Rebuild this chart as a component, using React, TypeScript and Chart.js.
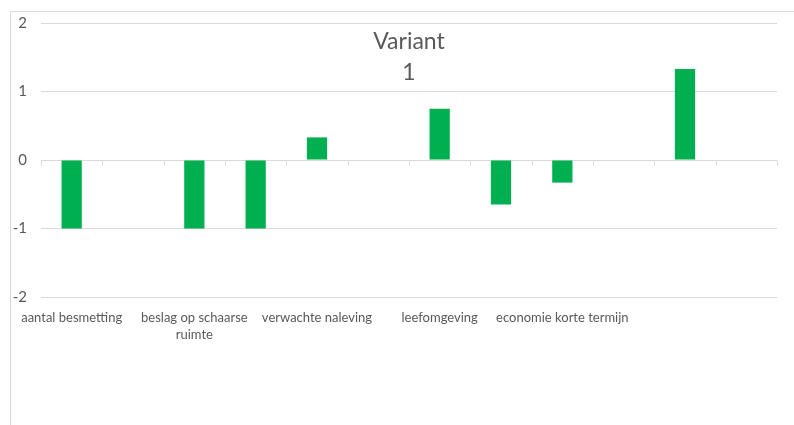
import React, { useEffect, useRef } from "react";
import { Chart, registerables } from "chart.js";

Chart.register(...registerables);

const categories: (string | string[])[] = [
  "aantal besmetting",
  "",
  ["beslag op schaarse", "ruimte"],
  "",
  "verwachte naleving",
  "",
  "leefomgeving",
  "",
  "economie korte termijn",
  "",
  "",
  "",
];
const values: number[] = [-1, 0, -1, -1, 0.33, 0, 0.75, -0.65, -0.33, 0, 1.33, 0];
const yTicks: number[] = [-2, -1, 0, 1, 2];
const titleLines: string[] = ["Variant", "1"];

const GRID = "#d9d9d9";
const TEXT = "#595959";
const FONT = "Lato, 'Open Sans', sans-serif";

const framePlugin = {
  id: "frame",
  beforeDraw(chart: any) {
    const { ctx } = chart;
    ctx.save();
    ctx.fillStyle = "#ffffff";
    ctx.fillRect(0, 0, chart.width, chart.height);
    ctx.strokeStyle = GRID;
    ctx.lineWidth = 1;
    ctx.beginPath();
    ctx.moveTo(10.5, chart.height);
    ctx.lineTo(10.5, 11.5);
    ctx.lineTo(chart.width, 11.5);
    ctx.stroke();
    ctx.restore();
  },
  afterDatasetsDraw(chart: any) {
    const { ctx, chartArea } = chart;
    const y = chart.scales.y;
    const y0 = Math.round(y.getPixelForValue(0)) + 0.5;
    const n = categories.length;
    const w = (chartArea.right - chartArea.left) / n;
    ctx.save();
    ctx.strokeStyle = GRID;
    ctx.lineWidth = 1;
    ctx.beginPath();
    for (let i = 0; i <= n; i++) {
      const x = Math.round(chartArea.left + i * w) + 0.5;
      ctx.moveTo(x, y0);
      ctx.lineTo(x, y0 + 5);
    }
    ctx.stroke();
    // title
    ctx.fillStyle = TEXT;
    ctx.font = `23px ${FONT}`;
    ctx.textAlign = "center";
    ctx.textBaseline = "alphabetic";
    const cx = (chartArea.left + chartArea.right) / 2;
    titleLines.forEach((t, i) => ctx.fillText(t, cx, 49 + i * 31));
    ctx.restore();
  },
};

export default function App() {
  const ref = useRef<HTMLCanvasElement>(null);
  useEffect(() => {
    if (!ref.current) return;
    const chart = new Chart(ref.current, {
      type: "bar",
      data: {
        labels: categories,
        datasets: [
          {
            data: values,
            backgroundColor: "#00B050",
            borderWidth: 0,
            barPercentage: 0.33,
            categoryPercentage: 1,
          },
        ],
      },
      options: {
        animation: false,
        responsive: false,
        maintainAspectRatio: false,
        devicePixelRatio: 1,
        layout: { padding: { left: 10, top: 22, right: 17, bottom: 0 } },
        plugins: {
          legend: { display: false },
          title: { display: false },
          tooltip: { enabled: false },
        },
        scales: {
          x: {
            grid: { display: false, drawTicks: false },
            border: { display: false },
            ticks: {
              autoSkip: false,
              maxRotation: 0,
              minRotation: 0,
              padding: 13,
              color: TEXT,
              font: { family: FONT, size: 13, lineHeight: 1.25 },
            },
            afterFit: (s: any) => {
              s.height = 128;
            },
          },
          y: {
            min: -2,
            max: 2,
            afterBuildTicks: (s: any) => {
              s.ticks = yTicks.map((v) => ({ value: v }));
            },
            grid: { color: GRID, lineWidth: 1, drawTicks: false },
            border: { display: false },
            ticks: {
              padding: 14,
              color: TEXT,
              font: { family: FONT, size: 15 },
            },
            afterFit: (s: any) => {
              s.width = 31;
            },
          },
        },
      },
      plugins: [framePlugin],
    });
    return () => chart.destroy();
  }, []);
  return (
    <div style={{ position: "fixed", left: 0, top: 0, width: 794, height: 425, background: "#fff" }}>
      <canvas ref={ref} width={794} height={425} style={{ width: 794, height: 425 }} />
    </div>
  );
}
